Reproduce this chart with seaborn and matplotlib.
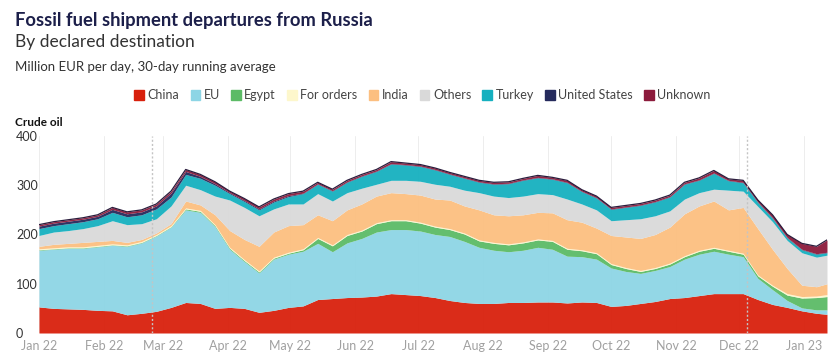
import pandas as pd
import numpy as np
import matplotlib.pyplot as plt
import matplotlib.dates as mdates
import matplotlib.patches as mpatches
import seaborn as sns

# weekly samples (million EUR per day)
dates = pd.date_range('2022-01-01', periods=54, freq='7D').append(pd.DatetimeIndex(['2023-01-12']))

china = [53, 50, 49, 48, 46, 45, 37, 40, 44, 52, 62, 60, 50, 52, 50, 42, 46, 52, 55, 68,
         70, 72, 73, 75, 80, 78, 76, 72, 66, 62, 60, 60, 62, 62, 63, 63, 61, 63, 62, 54,
         56, 60, 64, 70, 72, 76, 80, 80, 80, 68, 58, 52, 45, 40, 38]
eu = [115, 120, 123, 124, 129, 133, 139, 143, 153, 163, 188, 185, 166, 118, 95, 80, 104, 108, 111, 114,
      95, 111, 119, 130, 130, 132, 131, 128, 130, 124, 114, 108, 103, 106, 111, 107, 95, 92, 88, 78,
      69, 61, 63, 65, 78, 84, 86, 80, 75, 43, 30, 14, 6, 7, 9]
egypt = [1, 1, 1, 1, 1, 1, 1, 1, 1, 1, 2, 2, 2, 2, 2, 2, 2, 2, 3, 10,
         12, 15, 15, 17, 18, 18, 16, 15, 14, 15, 13, 14, 14, 15, 15, 16, 14, 12, 11, 7,
         6, 4, 4, 5, 5, 6, 6, 6, 5, 5, 7, 11, 20, 25, 27]
for_orders = [2] * 51 + [3, 3, 3, 4]
india = [5, 7, 7, 9, 8, 7, 5, 4, 3, 4, 14, 11, 20, 34, 41, 50, 51, 54, 49, 46,
         49, 50, 53, 54, 55, 53, 55, 55, 58, 55, 61, 56, 57, 55, 54, 56, 58, 56, 50, 57,
         62, 65, 67, 73, 85, 90, 94, 82, 93, 94, 73, 51, 23, 19, 22]
others = [22, 25, 26, 28, 32, 40, 36, 32, 29, 36, 32, 31, 38, 62, 65, 62, 47, 44, 42, 43,
          40, 35, 32, 24, 25, 27, 28, 30, 28, 32, 35, 38, 37, 38, 38, 37, 42, 37, 37, 30,
          35, 40, 38, 33, 30, 27, 24, 40, 33, 45, 56, 57, 66, 60, 58]
turkey = [14, 13, 14, 14, 14, 17, 16, 18, 20, 18, 22, 23, 22, 13, 12, 12, 14, 15, 21, 19,
          20, 21, 24, 26, 33, 31, 30, 29, 24, 24, 21, 24, 28, 32, 32, 31, 33, 25, 24, 23,
          25, 27, 28, 28, 30, 25, 32, 19, 17, 8, 7, 5, 6, 6, 5]
united_states = [5, 5, 5, 5, 5, 6, 6, 6, 6, 8, 6, 4, 3, 2, 2, 2, 2, 2] + [1] * 37
unknown = [3, 3, 3, 3, 3, 4, 4, 4, 4, 4, 4, 4, 4, 3, 4, 4, 4, 4, 4, 3,
           3, 3, 3, 3, 4, 3, 3, 3, 3, 3, 3, 3, 3, 3, 4, 3, 4, 3, 3, 3,
           3, 3, 3, 3, 3, 4, 5, 3, 4, 4, 6, 6, 12, 15, 25]

names = ['China', 'EU', 'Egypt', 'For orders', 'India', 'Others', 'Turkey', 'United States', 'Unknown']
series = [china, eu, egypt, for_orders, india, others, turkey, united_states, unknown]
colors = ['#d8200c', '#8dd5e5', '#5cbb66', '#fdf7cc', '#fcbf80', '#d9d9d9', '#16b0bf', '#252a5c', '#8c1b3c']

sns.set_theme(style='white')
plt.rcParams['font.family'] = ['Lato', 'DejaVu Sans']

fig = plt.figure(figsize=(8.4, 3.59), dpi=100)
ax = fig.add_axes([0.0464, 0.0724, 0.9381, 0.5488])

ax.stackplot(dates, *series, colors=colors, alpha=0.95, linewidth=0, zorder=2)

# dark outline along the top of the stack
total = np.sum(np.array(series), axis=0)
sns.lineplot(x=dates, y=total, ax=ax, color='#2b1d3d', lw=0.9, zorder=3)

for d in ['2022-02-24', '2022-12-05']:
    ax.axvline(pd.Timestamp(d), color='#c4c4c4', ls=(0, (1.5, 1.5)), lw=1, zorder=4)

ax.set_xlim(dates[0], dates[-1])
ax.set_ylim(0, 400)
ax.set_yticks([0, 100, 200, 300, 400])
ax.tick_params(axis='y', length=0, pad=16.5, labelsize=9, labelcolor='#333333')
for lbl in ax.get_yticklabels():
    lbl.set_ha('left')

months = pd.date_range('2022-01-01', '2023-01-01', freq='MS')
ax.set_xticks(months)
ax.xaxis.set_major_formatter(mdates.DateFormatter('%b %y'))
ax.tick_params(axis='x', length=0, pad=5, labelsize=9, labelcolor='#a0a0a0')
ax.grid(axis='x', color='#ededed', lw=0.7)
ax.grid(axis='y', visible=False)
ax.set_axisbelow(True)
ax.set_xlabel('')
ax.set_ylabel('')
sns.despine(ax=ax, left=True, bottom=True)

fig.text(0.018, 0.944, 'Fossil fuel shipment departures from Russia', fontsize=13.2,
         fontweight='bold', color='#1c1f4a', va='center')
fig.text(0.018, 0.883, 'By declared destination', fontsize=12.5, color='#333333', va='center')
fig.text(0.018, 0.813, 'Million EUR per day, 30-day running average', fontsize=9.5,
         color='#333333', va='center')
fig.text(0.018, 0.660, 'Crude oil', fontsize=8.5, fontweight='bold', color='#111111', va='center')

handles = [mpatches.Patch(color=c, label=n) for c, n in zip(colors, names)]
fig.legend(handles=handles, loc='center', bbox_to_anchor=(0.503, 0.735), ncol=9, frameon=False,
           fontsize=9, handlelength=0.75, handleheight=0.9, handletextpad=0.3,
           columnspacing=0.9, labelcolor='#444444')

fig.savefig('out.png', dpi=100)
